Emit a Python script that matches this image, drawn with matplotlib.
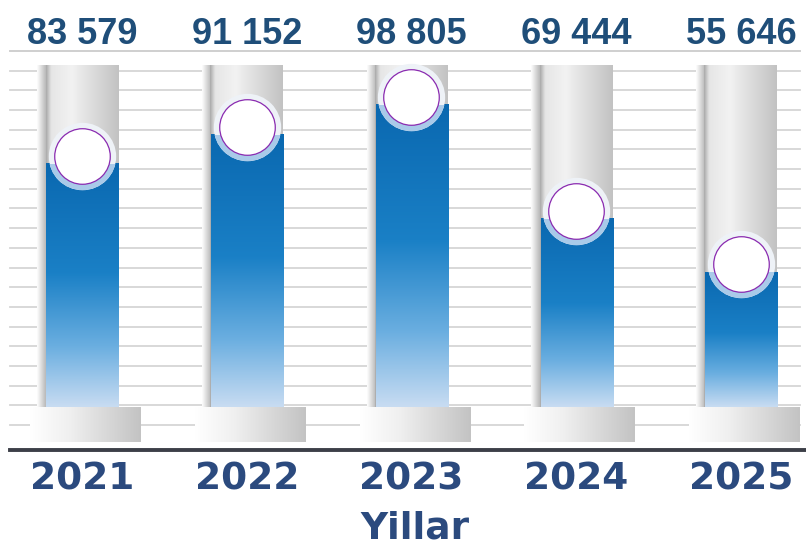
import numpy as np
import matplotlib.pyplot as plt
from matplotlib.colors import LinearSegmentedColormap
from matplotlib.patches import Rectangle

years = ["2021", "2022", "2023", "2024", "2025"]
values = [83579, 91152, 98805, 69444, 55646]
xlabel = "Yillar"

# every text in this chart is bold
plt.rcParams["font.weight"] = "bold"

# value-axis layout (chosen so the picture lines up with the reference)
YMIN, YMAX = -15050, 125890
TUBE_TOP, TUBE_BOT = 109100, 20830
BASE_BOT = 11800
AXIS_Y = 9730
TUBE_W = 0.443
BASE_W = 0.67

navy = "#2b4a7e"
label_blue = "#1f4e79"

tube_cmap = LinearSegmentedColormap.from_list(
    "tube", [(0, "#a9a9a9"), (0.07, "#e6e6e6"), (0.35, "#f2f2f2"), (1, "#c2c2c2")])
blue_cmap = LinearSegmentedColormap.from_list(
    "fill", [(0, "#c8dcf2"), (0.25, "#6aaee0"), (0.55, "#1a80c6"), (1, "#0a68b0")])
base_cmap = LinearSegmentedColormap.from_list(
    "base", [(0, "#ffffff"), (0.35, "#f0f0f0"), (1, "#c3c3c3")])
shadow_cmap = LinearSegmentedColormap.from_list("shadow", ["#ffffff", "#b8b8b8"])

fig = plt.figure(figsize=(8.06, 5.46), dpi=100)
ax = fig.add_axes([0, 0, 1, 1])
ax.set_xlim(-0.498, 4.395)
ax.set_ylim(YMIN, YMAX)

# background horizontal lines
for gy in np.linspace(16185, 112725, 20):
    ax.plot([-0.44, 4.36], [gy, gy], color="#d6d6d6", lw=1.3, zorder=1)

hgrad = np.linspace(0, 1, 256).reshape(1, -1)
vgrad = np.linspace(0, 1, 256).reshape(-1, 1)

for i, (yr, v) in enumerate(zip(years, values)):
    x0 = i - TUBE_W / 2
    x1 = i + TUBE_W / 2
    # soft shadow left of the tube
    ax.imshow(hgrad, cmap=shadow_cmap, extent=(x0 - 0.05, x0, TUBE_BOT, TUBE_TOP),
              aspect="auto", zorder=2, interpolation="bicubic")
    # empty glass tube
    ax.imshow(hgrad, cmap=tube_cmap, extent=(x0, x1, TUBE_BOT, TUBE_TOP),
              aspect="auto", zorder=3, interpolation="bicubic")
    # blue fill up to the value
    ax.imshow(vgrad, cmap=blue_cmap, origin="lower", extent=(x0 + 0.005, x1, TUBE_BOT, v),
              aspect="auto", zorder=4, interpolation="bicubic")
    # pedestal
    bc = i + 0.02
    ax.imshow(hgrad, cmap=base_cmap, extent=(bc - BASE_W / 2, bc + BASE_W / 2, BASE_BOT, TUBE_BOT),
              aspect="auto", zorder=5, interpolation="bicubic")

    # bubble with halo
    ax.scatter([i], [v + 2000], s=2350, color="#eef2f7", lw=0, zorder=6)
    halo = ax.scatter([i], [v + 2000], s=2350, color="#a9cae9", lw=0, zorder=7)
    halo.set_clip_path(Rectangle((x0 - 0.2, TUBE_BOT), TUBE_W + 0.4, v - TUBE_BOT,
                                 transform=ax.transData))
    ax.scatter([i], [v + 2000], s=1600, color="white", edgecolor="#8a2bb0", lw=0.9, zorder=8)

    ax.annotate(f"{v:,}".replace(",", " "), (i, TUBE_TOP), xytext=(0, 22),
                textcoords="offset points", ha="center", va="center",
                fontsize=26, fontweight="bold", color=label_blue,
                family="Liberation Sans", fontstretch="condensed", zorder=9)

# top line
ax.plot([-0.44, 4.36], [112725, 112725], color="#d0d0d0", lw=1.3, zorder=1)

ax.set_xticks(range(len(years)), years)
ax.tick_params(axis="x", length=0, pad=8, labelsize=27, labelcolor=navy)
ax.set_yticks([])

for s in ["top", "right", "left"]:
    ax.spines[s].set_visible(False)
ax.spines["bottom"].set_position(("data", AXIS_Y))
ax.spines["bottom"].set_bounds(-0.44, 4.395)
ax.spines["bottom"].set_color("#3c3f48")
ax.spines["bottom"].set_linewidth(2.8)

ax.set_xlabel(xlabel, fontsize=27, fontweight="bold", color=navy)
ax.xaxis.label.set_va("center")
ax.xaxis.set_label_coords(0.515, 0.032)

plt.savefig("out.png", dpi=100)
